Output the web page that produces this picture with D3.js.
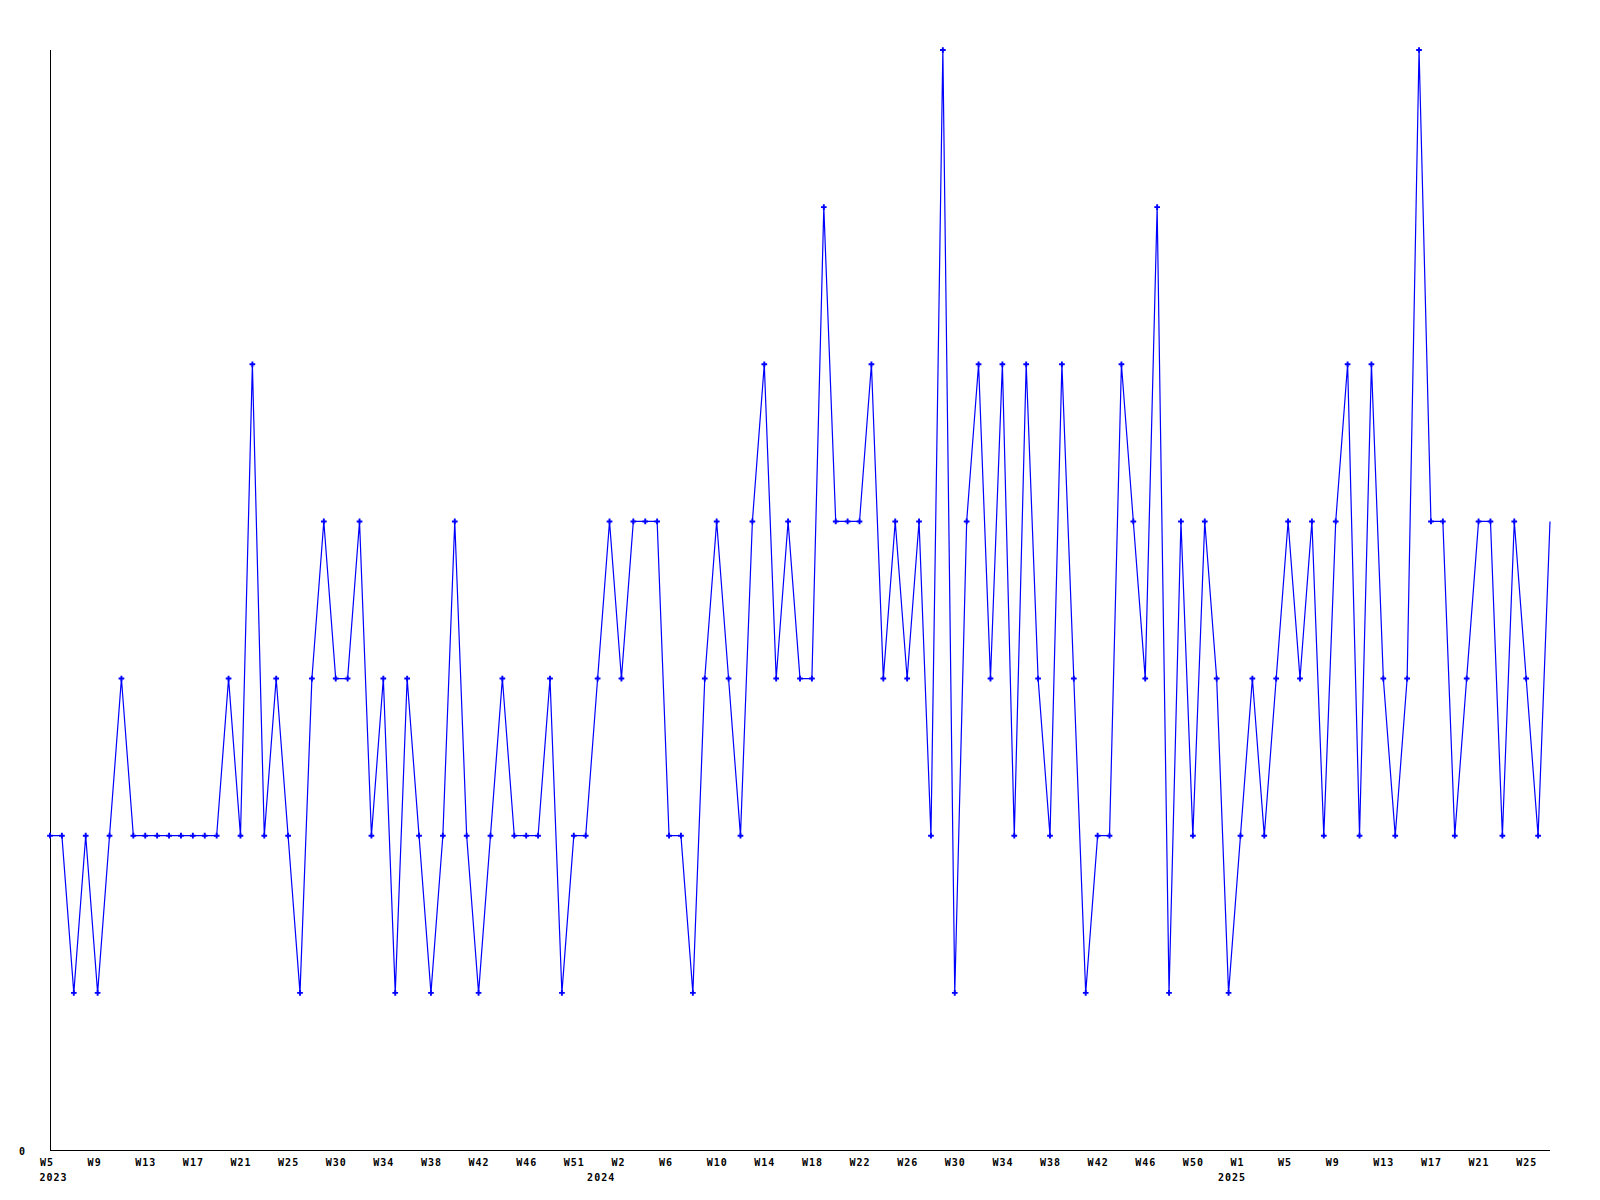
<!DOCTYPE html>
<html>
<head>
<meta charset="utf-8">
<script src="https://cdn.jsdelivr.net/npm/d3@7"></script>
<style>
  html, body { margin: 0; padding: 0; background: #ffffff; }
  svg { display: block; }
  .lbl { font-family: "DejaVu Sans Mono", "Liberation Mono", monospace; font-weight: bold; font-size: 10px; letter-spacing: 1px; fill: #000; }
</style>
</head>
<body>
<svg id="chart" width="1600" height="1200"></svg>
<script>
// ---- data ----
const years = [2023, 2024, 2025];
const weeksPerYear = [[5, 52], [1, 52], [1, 27]];
const values = [
  2,2,1,2,1,2,3,2,2,2,
  2,2,2,2,2,3,2,5,2,3,
  2,1,3,4,3,3,4,2,3,1,
  3,2,1,2,4,2,1,2,3,2,
  2,2,3,1,2,2,3,4,3,4,
  4,4,2,2,1,3,4,3,2,4,
  5,3,4,3,3,6,4,4,4,5,
  3,4,3,4,2,7,1,4,5,3,
  5,2,5,3,2,5,3,1,2,2,
  5,4,3,6,1,4,2,4,3,1,
  2,3,2,3,4,3,4,2,4,5,
  2,5,3,2,3,7,4,4,2,3,
  4,4,2,4,3,2,4
];
const tickLabels = ["W5","W9","W13","W17","W21","W25","W30","W34","W38","W42","W46","W51",
  "W2","W6","W10","W14","W18","W22","W26","W30","W34","W38","W42","W46","W50",
  "W1","W5","W9","W13","W17","W21","W25"];
const yearLabels = ["2023", "2024", "2025"];
const yearLabelIndex = [0, 46, 99];
const yTicks = [0];
const yMax = 7;

// categories: ISO week keys
const categories = [];
years.forEach((yr, k) => {
  for (let w = weeksPerYear[k][0]; w <= weeksPerYear[k][1]; w++) categories.push(yr + "-W" + w);
});
const tickCats = tickLabels.map((t, k) => categories[k * 4]);

// ---- layout ----
const mLeft = 50, mRight = 1550, mTop = 50, mBottom = 1150;
const svg = d3.select("#chart");
svg.append("rect").attr("width", 1600).attr("height", 1200).attr("fill", "#fff");

const x = d3.scalePoint().domain(categories).range([mLeft, mRight]);
const y = d3.scaleLinear().domain([0, yMax]).range([mBottom, mTop]);

// axes lines
svg.append("line").attr("x1", mLeft + 0.5).attr("x2", mLeft + 0.5).attr("y1", y(yMax)).attr("y2", mBottom)
  .attr("stroke", "#000").attr("stroke-width", 1).attr("shape-rendering", "crispEdges");
svg.append("line").attr("x1", mLeft).attr("x2", mRight).attr("y1", mBottom + 0.5).attr("y2", mBottom + 0.5)
  .attr("stroke", "#000").attr("stroke-width", 1).attr("shape-rendering", "crispEdges");

// y axis labels
const yAxis = d3.axisLeft(y).tickValues(yTicks).tickSize(0).tickPadding(25).tickFormat(d3.format("d"));
const gy = svg.append("g").attr("transform", `translate(${mLeft},0)`).call(yAxis);
gy.select(".domain").remove();
gy.selectAll("text").attr("class", "lbl").attr("font-family", null).attr("font-size", null)
  .style("letter-spacing", "0px").attr("dy", "0.35em").attr("y", 1);

// x axis labels
const xAxis = d3.axisBottom(x).tickValues(tickCats).tickSize(0).tickPadding(0)
  .tickFormat((d) => tickLabels[tickCats.indexOf(d)]);
const gx = svg.append("g").attr("transform", `translate(0,${mBottom})`).call(xAxis);
gx.select(".domain").remove();
gx.selectAll("text").attr("class", "lbl").attr("font-family", null).attr("font-size", null)
  .attr("text-anchor", "start").attr("dx", -10.5).attr("dy", 0).attr("y", 15.8);

// year labels
svg.append("g").selectAll("text").data(yearLabels).join("text")
  .attr("class", "lbl")
  .attr("x", (d, k) => x(categories[yearLabelIndex[k]]) - 10.5)
  .attr("y", mBottom + 30.8)
  .text(d => d);

// line
const line = d3.line().x((d, i) => x(categories[i])).y(d => y(d));
svg.append("path").datum(values).attr("d", line)
  .attr("fill", "none").attr("stroke", "#0000ff").attr("stroke-width", 1.2);

// markers (last point has none)
const sym = d3.symbol().type(d3.symbolCross).size(18);
svg.append("g").selectAll("path").data(values.slice(0, values.length - 1)).join("path")
  .attr("transform", (d, i) => `translate(${x(categories[i])},${y(d)})`)
  .attr("d", sym).attr("fill", "#0000ff");
</script>
</body>
</html>
